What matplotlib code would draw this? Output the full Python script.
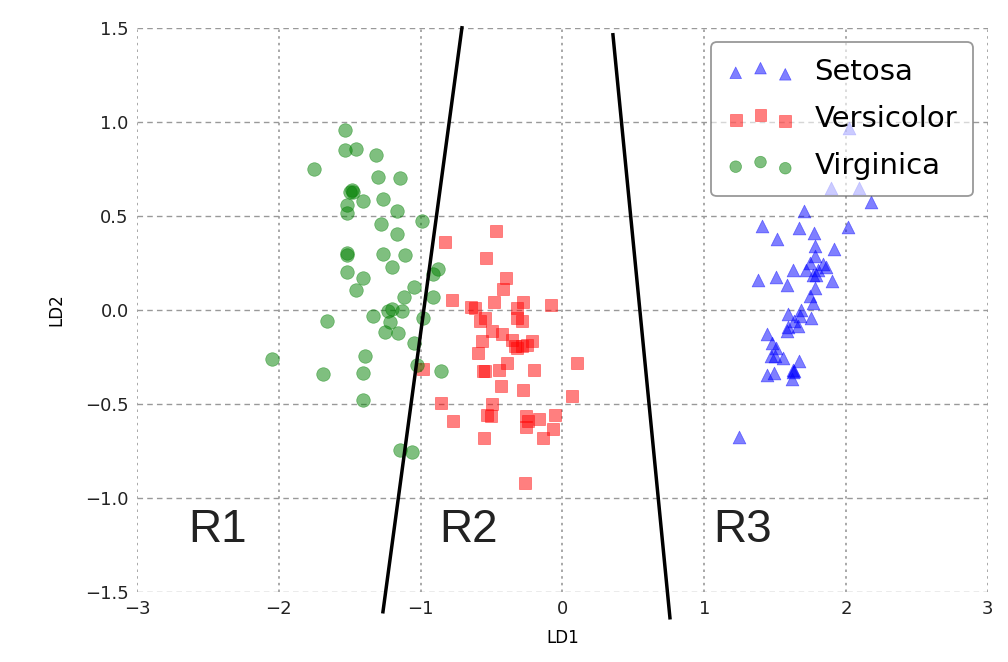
import numpy as np
import matplotlib
matplotlib.use('Agg')
import matplotlib.pyplot as plt

# LDA projections (LD1, LD2)
setosa_ld1 = [2.020, 1.891, 2.093, 2.173, 1.703, 1.407, 1.668, 2.016, 1.774, 1.511,
              1.781, 1.915, 1.781, 1.745, 1.839, 1.858, 1.628, 1.717, 1.804, 1.788,
              1.376, 1.503, 1.898, 1.585, 1.781, 1.745, 1.769, 1.682, 1.593, 1.675,
              1.752, 1.635, 1.588, 1.663, 1.581, 1.440, 1.475, 1.506, 1.499, 1.557,
              1.668, 1.628, 1.623, 1.492, 1.440, 1.616, 1.245, 1.468, 1.635, 1.769]
setosa_ld2 = [0.966, 0.647, 0.647, 0.571, 0.527, 0.447, 0.434, 0.443, 0.408, 0.378,
              0.342, 0.323, 0.284, 0.248, 0.245, 0.230, 0.213, 0.213, 0.213, 0.186,
              0.160, 0.172, 0.154, 0.133, 0.115, 0.071, 0.035, 0.000, -0.021, -0.035,
              -0.044, -0.062, -0.089, -0.085, -0.115, -0.128, -0.177, -0.204, -0.248, -0.257,
              -0.270, -0.319, -0.333, -0.337, -0.349, -0.369, -0.674, -0.248, -0.324, 0.186]

versicolor_ld1 = [-0.829, -0.469, -0.542, -0.398, -0.417, -0.781, -0.645, -0.617, -0.481, -0.276,
                  -0.083, -0.323, -0.547, -0.582, -0.323, -0.288, -0.499, -0.429, -0.570, -0.358,
                  -0.335, -0.288, -0.252, -0.217, -0.323, -0.594, -0.982, -0.547, -0.559, -0.446,
                  -0.389, -0.201, 0.104, -0.434, -0.281, 0.067, -0.857, -0.499, -0.774, -0.535,
                  -0.506, -0.257, -0.241, -0.164, -0.053, -0.257, -0.065, -0.140, -0.551, -0.264]
versicolor_ld2 = [0.363, 0.417, 0.278, 0.168, 0.110, 0.053, 0.014, 0.009, 0.039, 0.039,
                  0.027, 0.009, -0.044, -0.062, -0.044, -0.062, -0.115, -0.129, -0.168, -0.160,
                  -0.195, -0.191, -0.186, -0.168, -0.204, -0.230, -0.314, -0.328, -0.323, -0.319,
                  -0.284, -0.319, -0.284, -0.404, -0.426, -0.461, -0.493, -0.500, -0.594, -0.559,
                  -0.567, -0.567, -0.594, -0.580, -0.559, -0.621, -0.635, -0.683, -0.683, -0.922]

virginica_ld1 = [-1.534, -1.534, -1.456, -1.317, -1.750, -1.299, -1.148, -1.487, -1.475, -1.405,
                 -1.268, -1.518, -1.522, -1.169, -0.993, -1.278, -1.167, -1.522, -1.522, -1.268,
                 -1.113, -1.200, -0.880, -0.911, -1.522, -1.405, -1.456, -1.049, -1.118, -0.911,
                 -1.228, -1.134, -1.334, -1.217, -1.659, -0.984, -1.254, -1.160, -1.049, -2.047,
                 -1.393, -1.687, -1.405, -1.024, -0.857, -1.409, -1.205, -1.499, -1.146, -1.060]
virginica_ld2 = [0.954, 0.851, 0.856, 0.824, 0.748, 0.706, 0.700, 0.638, 0.624, 0.581,
                 0.589, 0.559, 0.514, 0.527, 0.473, 0.456, 0.403, 0.301, 0.289, 0.296,
                 0.291, 0.227, 0.218, 0.190, 0.200, 0.167, 0.103, 0.122, 0.067, 0.067,
                 -0.005, -0.005, -0.032, -0.066, -0.057, -0.041, -0.119, -0.124, -0.177, -0.259,
                 -0.245, -0.342, -0.337, -0.296, -0.324, -0.482, 0.004, 0.629, -0.745, -0.755]

# decision boundaries (end points)
boundary1_x = [-0.709, -1.266]
boundary1_y = [1.5, -1.606]
boundary2_x = [0.356, 0.758]
boundary2_y = [1.463, -1.638]

region_labels = ['R1', 'R2', 'R3']
region_x = [-2.43, -0.66, 1.27]
region_y = [-1.17, -1.17, -1.17]

fig = plt.figure(figsize=(10.08, 6.62), dpi=100)
ax = fig.add_axes([0.136, 0.106, 0.844, 0.852])

ax.scatter(setosa_ld1, setosa_ld2, marker='^', color='blue', alpha=0.5, s=85,
           linewidths=0.5, label='Setosa')
ax.scatter(versicolor_ld1, versicolor_ld2, marker='s', color='red', alpha=0.5, s=85,
           linewidths=0.5, label='Versicolor')
ax.scatter(virginica_ld1, virginica_ld2, marker='o', color='green', alpha=0.5, s=95,
           linewidths=0.5, label='Virginica')

ax.plot(boundary1_x, boundary1_y, color='black', lw=2.5, clip_on=False)
ax.plot(boundary2_x, boundary2_y, color='black', lw=2.5, clip_on=False)

for lab, x, y in zip(region_labels, region_x, region_y):
    ax.text(x, y, lab, fontsize=33, ha='center', va='center',
            family='Liberation Sans', color='#222222')

ax.set_xlim(-3, 3)
ax.set_ylim(-1.5, 1.5)
ax.set_xticks(np.arange(-3, 4, 1))
ax.set_yticks(np.arange(-1.5, 1.6, 0.5))
ax.set_frame_on(False)
ax.tick_params(length=0, labelsize=13, pad=6, colors='#222222')
ax.xaxis.grid(True, linestyle=(0, (1.5, 2.5)), color='#999999', lw=1.2)
ax.yaxis.grid(True, linestyle=(0, (4, 3)), color='#999999', lw=1.0)
ax.set_axisbelow(True)
ax.set_xlabel('LD1', fontsize=12, labelpad=8)
ax.set_ylabel('LD2', fontsize=12, labelpad=14)

leg = ax.legend(loc='upper right', scatterpoints=3, scatteryoffsets=[0.375, 0.6, 0.3],
                fontsize=21, fancybox=True, framealpha=0.6, borderaxespad=0.5,
                handlelength=2.3, handletextpad=0.7, labelspacing=0.65, borderpad=0.55)
leg.get_frame().set_edgecolor('#555555')
leg.get_frame().set_linewidth(1.3)
for h in leg.legend_handles:
    h.set_sizes([70, 70, 70])

fig.savefig('out.png', dpi=100)
